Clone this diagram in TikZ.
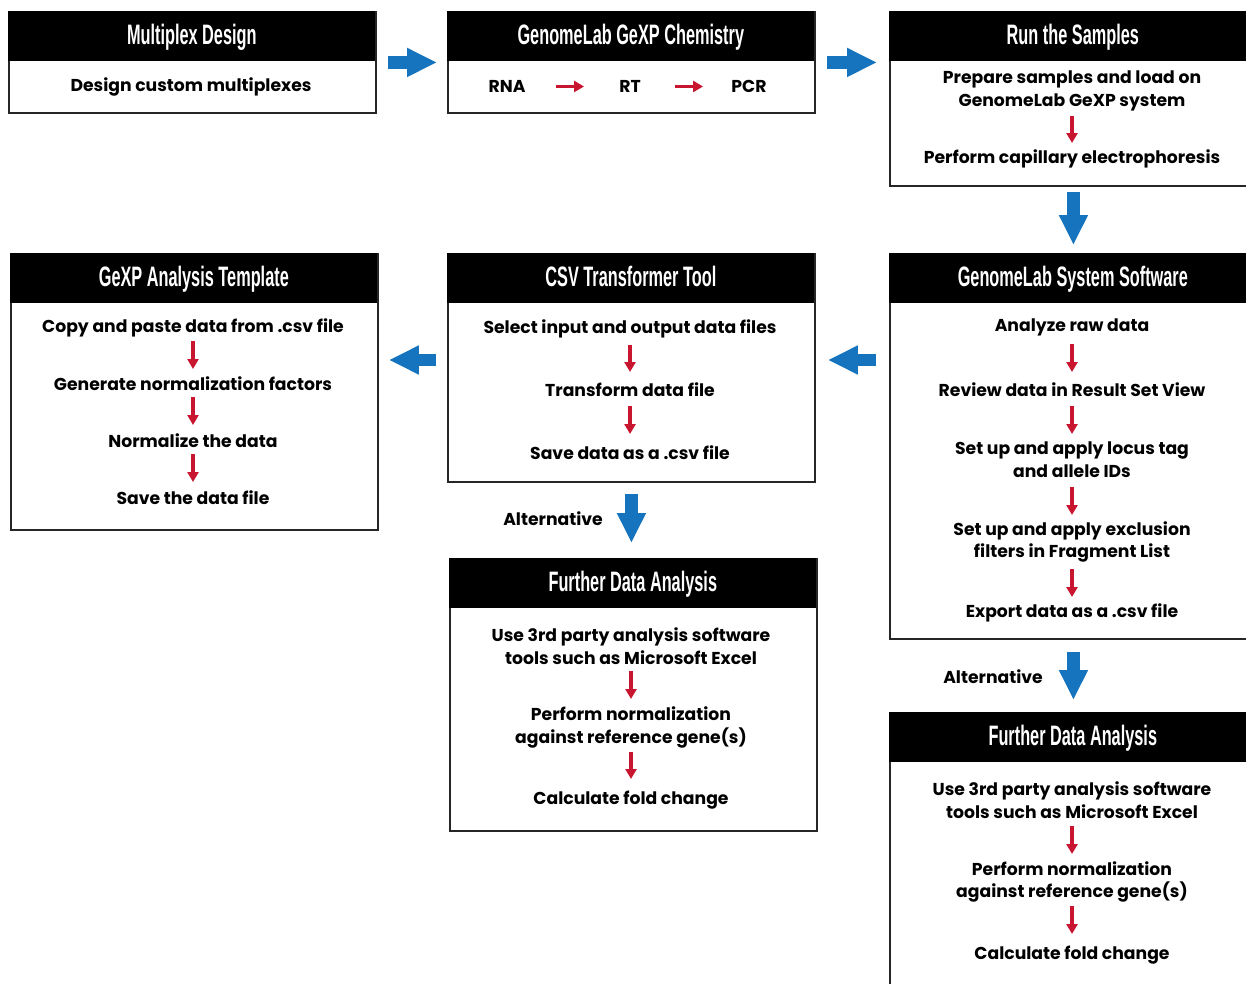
\documentclass[tikz,border=0pt]{standalone}
\usepackage{fontspec}
\setmainfont{Poppins}
\newfontfamily\headfont[FakeStretch=0.58]{Liberation Sans}
\usetikzlibrary{positioning,arrows.meta}
\definecolor{flowblue}{RGB}{22,116,190}
\definecolor{stepred}{RGB}{200,22,48}

\begin{document}
\begin{tikzpicture}[
  x=0.02cm, y=-0.02cm,
  card/.style={draw=black!85, line width=1.1pt, anchor=north west, minimum width=7.34cm, inner sep=0},
  head/.style={fill=black, anchor=north west, minimum width=7.34cm, minimum height=1cm,
    inner sep=0, text height=0.42cm, text depth=0.1cm, text=white,
    font=\headfont\bfseries\fontsize{16}{18}\selectfont},
  item/.style={font=\bfseries\fontsize{9.8}{13}\selectfont, align=center, inner sep=0, yshift=-0.03cm},
  flow/.style={draw=flowblue, line width=0.25cm, -{Triangle[length=0.6cm, width=0.54cm]}},
  steparrow/.style 2 args={draw=stepred, line width=0.07cm, -{Triangle[length=0.2cm, width=0.22cm]},
    shorten <=#1, shorten >=#2}
]
  \useasboundingbox (0,0) rectangle (1246,983);

  % top row
  \node (ms) [card, minimum height=2.02cm] at (8,11) {};
  \node (mshead) [head] at (8,11) {Multiplex Design};
  \node (ms1) [item] at (191,85) {Design custom multiplexes};

  \node (chem) [card, minimum height=2.02cm] at (447,11) {};
  \node (chemhead) [head] at (447,11) {GenomeLab GeXP Chemistry};
  \node (rna) [item] at (507,85) {RNA};
  \node (rt) [item] at (630,85) {RT};
  \node (pcr) [item] at (749,85) {PCR};

  \node (run) [card, minimum height=3.48cm] at (889,11) {};
  \node (runhead) [head] at (889,11) {Run the Samples};
  \node (run1) [item] at (1072,89.5) {Prepare samples and load on\\GenomeLab GeXP system};
  \node (run2) [item] at (1072,157) {Perform capillary electrophoresis};

  % middle row
  \node (sw) [card, minimum height=7.7cm] at (889,253) {};
  \node (swhead) [head] at (889,253) {GenomeLab System Software};
  \node (sw1) [item] at (1072,326) {Analyze raw data};
  \node (sw2) [item] at (1072,388) {Review data in Result Set View};
  \node (sw3) [item] at (1072,458.5) {Set up and apply locus tag\\and allele IDs};
  \node (sw4) [item] at (1072,540.5) {Set up and apply exclusion\\filters in Fragment List};
  \node (sw5) [item] at (1072,611) {Export data as a .csv file};

  \node (csv) [card, minimum height=4.56cm] at (447,253) {};
  \node (csvhead) [head] at (447,253) {CSV Transformer Tool};
  \node (csv1) [item] at (630,327) {Select input and output data files};
  \node (csv2) [item] at (630,388) {Transform data file};
  \node (csv3) [item] at (630,451) {Save data as a .csv file};

  \node (tpl) [card, minimum height=5.52cm] at (10,253) {};
  \node (tplhead) [head] at (10,253) {GeXP Analysis Template};
  \node (tpl1) [item] at (193,326) {Copy and paste data from .csv file};
  \node (tpl2) [item] at (193,382) {Generate normalization factors};
  \node (tpl3) [item] at (193,439) {Normalize the data};
  \node (tpl4) [item] at (193,496) {Save the data file};

  % further analysis
  \node (fda) [card, minimum height=5.44cm] at (449,558) {};
  \node (fdahead) [head] at (449,558) {Further Data Analysis};
  \node (fda1) [item] at (631,644.5) {Use 3rd party analysis software\\tools such as Microsoft Excel};
  \node (fda2) [item] at (631,726) {Perform normalization\\against reference gene(s)};
  \node (fda3) [item] at (631,799) {Calculate fold change};

  \node (fdb) [card, minimum height=5.9cm] at (889,712) {};
  \node (fdbhead) [head] at (889,712) {Further Data Analysis};
  \node (fdb1) [item] at (1072,799) {Use 3rd party analysis software\\tools such as Microsoft Excel};
  \node (fdb2) [item] at (1072,880.5) {Perform normalization\\against reference gene(s)};
  \node (fdb3) [item] at (1072,954) {Calculate fold change};

  \node (alta) [item] at (553,517) {Alternative};
  \node (altb) [item] at (993,675) {Alternative};

  \coordinate (midrow) at (0,360);

  % blue flow arrows
  \draw[flow, shorten <=0.22cm, shorten >=0.2cm] (ms) -- (chem);
  \draw[flow, shorten <=0.22cm, shorten >=0.24cm] (chem.east) -- (chem.east -| run.west);
  \draw[flow, shorten <=0.1cm, shorten >=0.16cm] (run.south) -- (sw.north);
  \draw[flow, shorten <=0.26cm, shorten >=0.24cm] (sw.west |- midrow) -- (csv.east |- midrow);
  \draw[flow, shorten <=0.22cm, shorten >=0.2cm] (csv.west |- midrow) -- (tpl.east |- midrow);
  \draw[flow, shorten <=0.22cm, shorten >=0.3cm] (csv.south) -- (csv.south |- fda.north);
  \draw[flow, shorten <=0.24cm, shorten >=0.24cm] (sw.south) -- (fdb.north);

  % red step arrows
  \draw[steparrow={0.98cm}{0.92cm}] (rna.center) -- (rt.center);
  \draw[steparrow={0.9cm}{0.92cm}] (rt.center) -- (pcr.center);
  \draw[steparrow={0.5cm}{0.31cm}] (run1.center) -- (run2.center);
  \draw[steparrow={0.33cm}{0.35cm}] (sw1.center) -- (sw2.center);
  \draw[steparrow={0.33cm}{0.52cm}] (sw2.center) -- (sw3.center);
  \draw[steparrow={0.54cm}{0.54cm}] (sw3.center) -- (sw4.center);
  \draw[steparrow={0.54cm}{0.31cm}] (sw4.center) -- (sw5.center);
  \draw[steparrow={0.33cm}{0.35cm}] (csv1.center) -- (csv2.center);
  \draw[steparrow={0.33cm}{0.37cm}] (csv2.center) -- (csv3.center);
  \draw[steparrow={0.27cm}{0.29cm}] (tpl1.center) -- (tpl2.center);
  \draw[steparrow={0.27cm}{0.31cm}] (tpl2.center) -- (tpl3.center);
  \draw[steparrow={0.27cm}{0.31cm}] (tpl3.center) -- (tpl4.center);
  \draw[steparrow={0.5cm}{0.57cm}] (fda1.center) -- (fda2.center);
  \draw[steparrow={0.49cm}{0.43cm}] (fda2.center) -- (fda3.center);
  \draw[steparrow={0.51cm}{0.56cm}] (fdb1.center) -- (fdb2.center);
  \draw[steparrow={0.48cm}{0.43cm}] (fdb2.center) -- (fdb3.center);
\end{tikzpicture}
\end{document}
